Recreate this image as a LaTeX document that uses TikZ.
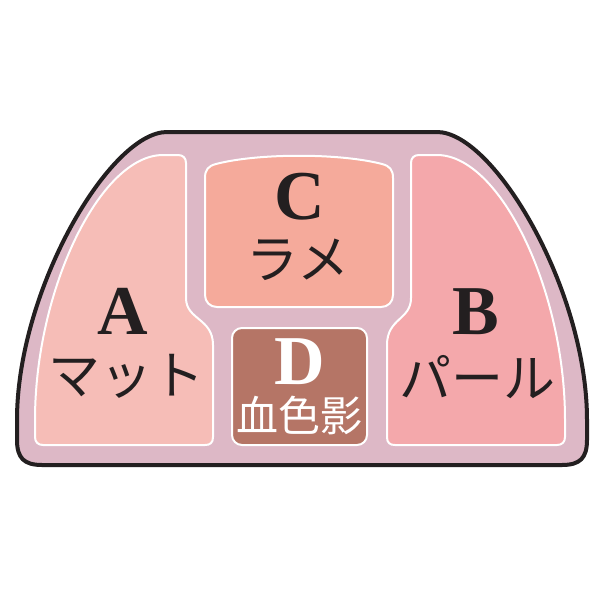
\documentclass[tikz,border=0pt]{standalone}
\usepackage{fontspec}
\setmainfont{Liberation Serif}
\newfontfamily\jpfont{Noto Sans CJK JP}
\definecolor{outline}{HTML}{231F20}
\definecolor{tray}{HTML}{DDB8C6}
\definecolor{colA}{HTML}{F6BDB7}
\definecolor{colB}{HTML}{F4A8AB}
\definecolor{colC}{HTML}{F5AA9B}
\definecolor{colD}{HTML}{B57566}
\tikzset{
  pan/.style={draw=white, line width=1pt, line join=round},
  letter/.style={font=\bfseries\fontsize{35}{35}\selectfont, text=outline, inner sep=0pt},
  kana/.style={font=\jpfont\fontsize{26}{26}\selectfont, text=outline, inner sep=0pt},
}
\begin{document}
\begin{tikzpicture}[x=0.5pt, y=-0.5pt]
\useasboundingbox (0,0) rectangle (600,600);
\fill[white] (0,0) rectangle (600,600);
% outer tray
\draw[draw=outline, fill=tray, line width=2pt, line join=round]
  (167,132) -- (437,132) .. controls (494,132) and (587,290) .. (587,420)
  -- (587,440) .. controls (587,458) and (580,465) .. (562,465)
  -- (42,465) .. controls (24,465) and (17,458) .. (17,440)
  -- (17,420) .. controls (17,290) and (110,132) .. (167,132) -- cycle;
% pan A
\draw[pan, fill=colA]
  (163,155) -- (178,155) .. controls (183,155) and (186,158) .. (186,163)
  -- (186,298) .. controls (186,320) and (213,318) .. (213,345)
  -- (213,437) .. controls (213,443) and (210,445) .. (205,445)
  -- (43,445) .. controls (38,445) and (35,442) .. (35,437)
  -- (35,420) .. controls (35,290) and (100,155) .. (163,155) -- cycle;
% pan B
\draw[pan, fill=colB]
  (437,155) -- (419,155) .. controls (414,155) and (411,158) .. (411,163)
  -- (411,298) .. controls (411,320) and (387,318) .. (387,345)
  -- (387,437) .. controls (387,443) and (390,445) .. (395,445)
  -- (557,445) .. controls (562,445) and (565,442) .. (565,437)
  -- (565,420) .. controls (565,290) and (500,155) .. (437,155) -- cycle;
% pan C
\draw[pan, fill=colC]
  (217,307) -- (381,307) .. controls (388,307) and (393,302) .. (393,295)
  -- (393,178) .. controls (393,170) and (390,166) .. (382,164)
  .. controls (340,153) and (258,153) .. (216,164)
  .. controls (208,166) and (205,170) .. (205,178)
  -- (205,295) .. controls (205,302) and (210,307) .. (217,307) -- cycle;
% pan D
\draw[pan, fill=colD, rounded corners=5pt] (232,328) rectangle (367,445);
% labels
\node[letter] (la) at (123,311) {A};
\node[kana] (ka) at (126,376) {マット};
\node[letter] (lc) at (300,197) {C};
\node[kana] (kc) at (298,260) {ラメ};
\node[letter, text=white] (ld) at (300,362) {D};
\node[kana, text=white, font=\jpfont\fontsize{21}{21}\selectfont] (kd) at (299,415) {血色影};
\node[letter] (lb) at (476,312) {B};
\node[kana] (kb) at (477,377) {パール};
\end{tikzpicture}
\end{document}
